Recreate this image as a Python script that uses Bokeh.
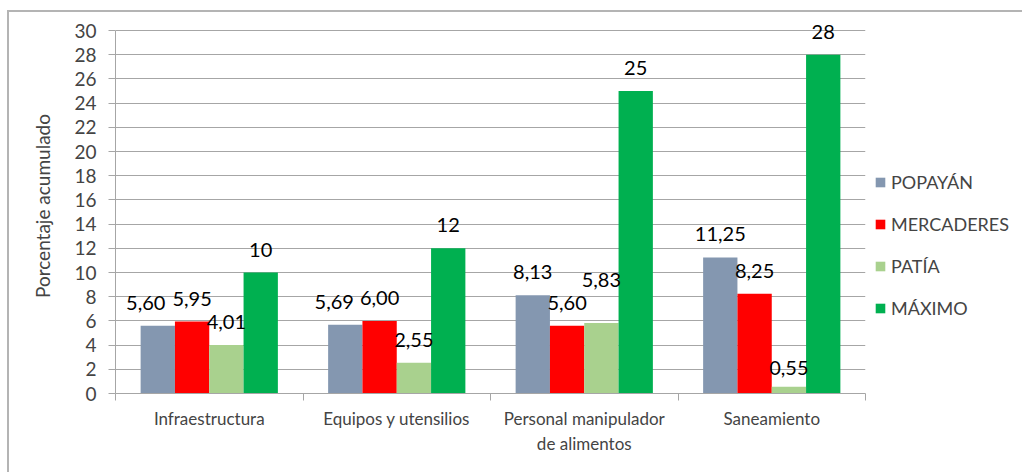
from bokeh.plotting import figure
from bokeh.models import (Range1d, FixedTicker, Legend, LegendItem,
                          ColumnDataSource, LabelSet)
from bokeh.core.properties import value
from bokeh.embed import file_html
from bokeh.resources import INLINE

# --- data -------------------------------------------------------------
categories = ["Infraestructura", "Equipos y utensilios",
              "Personal manipulador\nde alimentos", "Saneamiento"]
series_names = ["POPAYÁN", "MERCADERES", "PATÍA", "MÁXIMO"]
popayan = [5.60, 5.69, 8.13, 11.25]
mercaderes = [5.95, 6.00, 5.60, 8.25]
patia = [4.01, 2.55, 5.83, 0.55]
maximo = [10, 12, 25, 28]
y_ticks = list(range(0, 31, 2))

series_values = [popayan, mercaderes, patia, maximo]
series_colors = ["#8497B0", "#FF0000", "#A9D18E", "#00B050"]
decimals = [2, 2, 2, 0]

# per-label nudges (pixels) so overlapping labels stay readable
label_dx = [[-12, -11, 0, 0], [0, 0, 0, 0], [0, 0, 0, 0], [0, 0, 0, 0]]
label_dy = [[0, 0, 0, 0], [0, 0, 0, 0], [0, 0, 20, -4], [0, 0, 0, 0]]

FONT = "Lato"
GRID = "#A6A6A6"

p = figure(frame_width=750, frame_height=375, margin=(10, 0, 0, 7),
           x_range=Range1d(0, 4), y_range=Range1d(0, 31),
           output_backend="svg", toolbar_location=None,
           min_border_left=106, min_border_right=156,
           min_border_top=6, min_border_bottom=80)
p.styles = {"border-left": "2px solid #B4B4B4",
            "border-top": "2px solid #B4B4B4",
            "box-sizing": "border-box"}
p.outline_line_color = None
p.background_fill_color = "white"
p.border_fill_color = "white"

bar_w = 0.183
offsets = [-1.5 * bar_w, -0.5 * bar_w, 0.5 * bar_w, 1.5 * bar_w]
legend_items = []
for k, name in enumerate(series_names):
    xs = [i + 0.5 + offsets[k] for i in range(len(categories))]
    vals = series_values[k]
    if decimals[k]:
        texts = [f"{v:.2f}".replace(".", ",") for v in vals]
    else:
        texts = [f"{v:.0f}" for v in vals]
    src = ColumnDataSource(dict(x=xs, top=vals, text=texts,
                                dx=label_dx[k], dy=[23 + d for d in label_dy[k]]))
    r = p.vbar(x="x", top="top", width=bar_w, bottom=0, source=src,
               fill_color=series_colors[k], line_color=None)
    legend_items.append(LegendItem(label=name, renderers=[r]))
    labels = LabelSet(x="x", y="top", text="text", source=src,
                      x_offset="dx", y_offset="dy",
                      text_align="center", text_baseline="middle",
                      text_font=value(FONT), text_font_size="20px",
                      text_color="#000000")
    p.add_layout(labels)

# y axis (line and ticks stop at 30)
p.yaxis.bounds = (0, 30)
p.yaxis.ticker = FixedTicker(ticks=y_ticks)
p.yaxis.axis_label = "Porcentaje acumulado"
p.yaxis.axis_label_text_font = FONT
p.yaxis.axis_label_text_font_size = "19px"
p.yaxis.axis_label_text_font_style = "normal"
p.yaxis.axis_label_standoff = 17
p.yaxis.major_label_text_font = FONT
p.yaxis.major_label_text_font_size = "19px"
p.yaxis.major_label_standoff = 12
p.yaxis.axis_line_color = GRID
p.yaxis.major_tick_line_color = GRID
p.yaxis.major_tick_out = 7
p.yaxis.major_tick_in = 0
p.yaxis.minor_tick_line_color = None

# x axis: labels at the middle of each group, tick marks between groups
p.xaxis.ticker = FixedTicker(ticks=[i + 0.5 for i in range(len(categories))],
                             minor_ticks=list(range(len(categories) + 1)))
p.xaxis.major_label_overrides = {i + 0.5: c for i, c in enumerate(categories)}
p.xaxis.major_label_text_font = FONT
p.xaxis.major_label_text_font_size = "17px"
p.xaxis.major_label_standoff = 7
p.xaxis.major_tick_line_color = None
p.xaxis.major_tick_out = 0
p.xaxis.minor_tick_line_color = GRID
p.xaxis.minor_tick_out = 7
p.xaxis.minor_tick_in = 0
p.xaxis.axis_line_color = GRID

p.xgrid.grid_line_color = None
p.ygrid.grid_line_color = GRID
p.ygrid.grid_line_width = 1

legend = Legend(items=legend_items, location=(9, 74),
                orientation="vertical",
                glyph_width=12, glyph_height=12, label_height=20,
                label_standoff=5, spacing=20, padding=0, margin=0,
                label_text_font=FONT, label_text_font_size="18px",
                border_line_color=None, background_fill_alpha=0)
p.add_layout(legend, "right")

open("out.html", "w").write(file_html(p, INLINE))
